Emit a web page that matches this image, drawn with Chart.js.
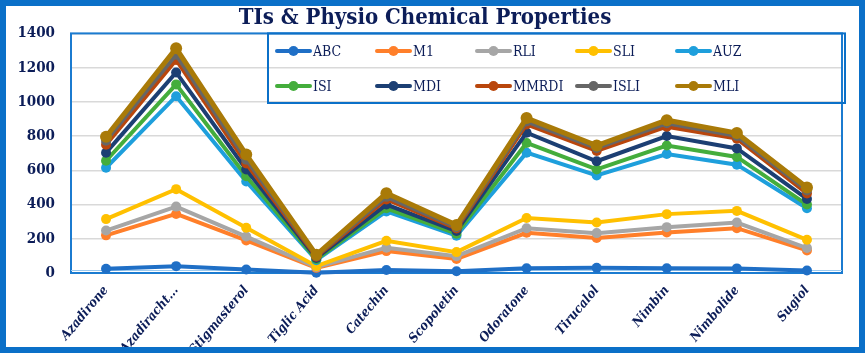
<!DOCTYPE html>
<html>
<head>
<meta charset="utf-8">
<script src="https://cdn.jsdelivr.net/npm/chart.js@4.4.0/dist/chart.umd.min.js"></script>
<style>
  html, body { margin: 0; padding: 0; background: #fff; overflow: hidden; }
  canvas { display: block; }
</style>
</head>
<body>
<canvas id="tiChart" width="865" height="353"></canvas>
<script>
// Compounds along the x axis
const categories = ['Azadirone', 'Azadiracht...', 'Stigmasterol', 'Tiglic Acid', 'Catechin',
    'Scopoletin', 'Odoratone', 'Tirucalol', 'Nimbin', 'Nimbolide', 'Sugiol'];

// Index values per compound
const abc   = [25, 40, 20, 1, 18, 10, 28, 30, 28, 27, 15];
const m1    = [220, 345, 190, 30, 128, 82, 235, 205, 237, 262, 132];
const rli   = [248, 388, 213, 35, 148, 98, 262, 233, 268, 295, 146];
const sli   = [315, 490, 264, 40, 188, 122, 321, 295, 344, 363, 194];
const auz   = [615, 1033, 535, 75, 360, 218, 703, 570, 695, 633, 378];
const isi   = [656, 1102, 565, 80, 378, 230, 760, 605, 745, 678, 400];
const mdi   = [703, 1172, 605, 88, 400, 245, 820, 653, 800, 728, 433];
const mmrdi = [750, 1245, 640, 95, 430, 260, 868, 713, 855, 785, 465];
const isli  = [773, 1275, 662, 100, 445, 268, 885, 730, 875, 800, 482];
const mli   = [796, 1313, 692, 106, 466, 280, 905, 745, 893, 818, 500];

const seriesNames = ['ABC', 'M1', 'RLI', 'SLI', 'AUZ', 'ISI', 'MDI', 'MMRDI', 'ISLI', 'MLI'];
const seriesData = [abc, m1, rli, sli, auz, isi, mdi, mmrdi, isli, mli];
const seriesColors = ['#1f6fc6', '#ff7f2a', '#a6a6a6', '#ffc000', '#1e9fdc',
    '#44ad3c', '#1c3f73', '#b9460c', '#666666', '#a97a08'];

const yTicks = [0, 200, 400, 600, 800, 1000, 1200, 1400];

const frameBlue = '#0b70c8';
const navy = '#0c1d58';
const serifCond = '"DejaVu Serif Condensed", "DejaVu Serif", serif';

const datasets = seriesNames.map((name, i) => ({
    label: name,
    data: seriesData[i],
    borderColor: seriesColors[i],
    backgroundColor: seriesColors[i],
    pointBackgroundColor: seriesColors[i],
    pointBorderColor: seriesColors[i],
    borderWidth: i === 9 ? 5 : 4,
    pointRadius: i === 9 ? 6 : 5,
    pointBorderWidth: 0,
    tension: 0,
    clip: false,
    order: seriesNames.length - i // later series on top
}));

// frame around the whole picture, and around the plot area
const framePlugin = {
    id: 'frames',
    beforeDatasetsDraw(chart) {
        const { ctx, chartArea: a } = chart;
        ctx.save();
        ctx.strokeStyle = '#1b7bd0';
        ctx.lineWidth = 2;
        ctx.strokeRect(a.left, a.top, a.right - a.left, a.bottom - a.top);
        ctx.strokeStyle = '#9cc9ee';
        ctx.lineWidth = 1;
        ctx.beginPath();
        ctx.moveTo(a.left, a.bottom - 2.5);
        ctx.lineTo(a.right, a.bottom - 2.5);
        ctx.stroke();
        ctx.restore();
    },
    afterDraw(chart) {
        const { ctx, width, height } = chart;
        ctx.save();
        ctx.strokeStyle = frameBlue;
        ctx.lineWidth = 6;
        ctx.strokeRect(3, 3, width - 6, height - 6);
        ctx.restore();
    }
};

// legend box drawn inside the plot, 5 columns x 2 rows
const legendPlugin = {
    id: 'boxLegend',
    afterDatasetsDraw(chart) {
        const { ctx, chartArea: a } = chart;
        const left = 268, top = a.top, right = a.right + 3, bottom = 103;
        ctx.save();
        ctx.strokeStyle = frameBlue;
        ctx.lineWidth = 2;
        ctx.strokeRect(left, top, right - left, bottom - top);
        ctx.font = '14px ' + serifCond;
        ctx.textBaseline = 'middle';
        chart.data.datasets.forEach((ds, i) => {
            const col = i % 5, row = Math.floor(i / 5);
            const x = 277 + col * 100;
            const y = row === 0 ? 51 : 86;
            ctx.strokeStyle = ds.borderColor;
            ctx.lineWidth = 4;
            ctx.lineCap = 'round';
            ctx.beginPath();
            ctx.moveTo(x, y);
            ctx.lineTo(x + 33, y);
            ctx.stroke();
            ctx.fillStyle = ds.borderColor;
            ctx.beginPath();
            ctx.arc(x + 16.5, y, 5, 0, Math.PI * 2);
            ctx.fill();
            ctx.fillStyle = navy;
            ctx.fillText(ds.label, x + 36, y + 1);
        });
        ctx.restore();
    }
};

new Chart(document.getElementById('tiChart'), {
    type: 'line',
    data: { labels: categories, datasets },
    options: {
        responsive: false,
        animation: false,
        layout: { padding: { left: 8, right: 23, top: 0, bottom: 0 } },
        plugins: {
            legend: { display: false },
            tooltip: { enabled: false },
            title: {
                display: true,
                text: 'TIs & Physio Chemical Properties',
                color: navy,
                font: { family: serifCond, size: 22, weight: 'bold' },
                padding: { top: 5, bottom: 2 }
            }
        },
        scales: {
            x: {
                offset: true,
                grid: { display: false },
                border: { display: false },
                ticks: {
                    color: navy,
                    maxRotation: 50,
                    minRotation: 50,
                    autoSkip: false,
                    padding: 2,
                    font: { family: serifCond, size: 13, weight: 'bold', style: 'italic' }
                },
                afterFit(scale) { scale.height = 80; }
            },
            y: {
                min: 0,
                max: 1400,
                afterBuildTicks(scale) { scale.ticks = yTicks.map(v => ({ value: v })); },
                grid: { color: '#d9d9d9', lineWidth: 1.5, drawTicks: false },
                border: { display: false },
                ticks: {
                    color: navy,
                    padding: 16,
                    callback: (v) => String(v),
                    font: { family: serifCond, size: 15, weight: 'bold' }
                },
                afterFit(scale) { scale.width = 63; }
            }
        }
    },
    plugins: [framePlugin, legendPlugin]
});
</script>
</body>
</html>
